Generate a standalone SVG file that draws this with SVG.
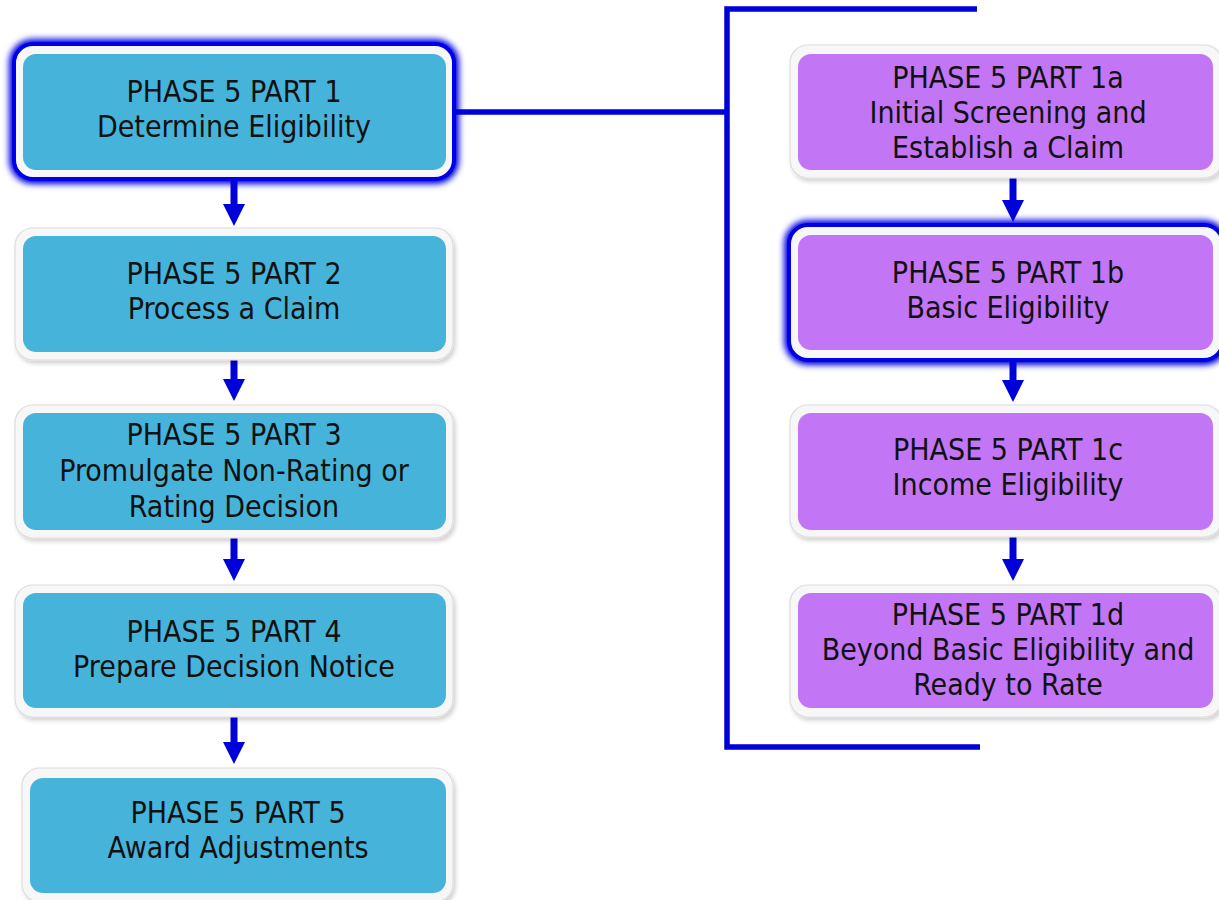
<svg xmlns="http://www.w3.org/2000/svg" width="1219" height="900" viewBox="0 0 1219 900">
<defs>
<style>
.frame{fill:#f7f7f7;stroke:#dedede;stroke-width:1.2;filter:url(#shadow)}
.blue{fill:#46B4DA}
.purple{fill:#C276F6}
.t{font-family:"DejaVu Sans Condensed","DejaVu Sans",Verdana,sans-serif;font-stretch:condensed;font-size:30px;fill:#111;text-anchor:middle}
.conn{stroke:#0000D8;stroke-width:5.5;fill:none}
.arr{stroke:#0000D8;stroke-width:7;fill:none;marker-end:url(#head)}
.glow{fill:none;stroke:#0000E6;stroke-width:12;filter:url(#blur)}
.glowline{fill:none;stroke:#0000E6;stroke-width:4}
</style>
<filter id="shadow" x="-5%" y="-5%" width="115%" height="120%">
<feDropShadow dx="2" dy="3" stdDeviation="2" flood-color="#000" flood-opacity="0.18"/>
</filter>
<filter id="blur" x="-10%" y="-20%" width="120%" height="140%">
<feGaussianBlur stdDeviation="3"/>
</filter>
<marker id="head" markerUnits="userSpaceOnUse" markerWidth="22" markerHeight="22" viewBox="0 0 22 22" refX="1" refY="11" orient="auto">
<path d="M0,0 L22,11 L0,22 z" fill="#0000D8"/>
</marker>
</defs>

<g id="connectors">
<path class="conn" d="M453,112 H727"/>
<path class="conn" d="M977,9 H727 V747 H980"/>
<path class="arr" d="M234,178 V205"/>
<path class="arr" d="M234,360 V380"/>
<path class="arr" d="M234,538 V560"/>
<path class="arr" d="M234,717 V743"/>
<path class="arr" d="M1013,178 V201"/>
<path class="arr" d="M1013,360 V381"/>
<path class="arr" d="M1013,537 V560"/>
</g>

<g id="p1">
<rect class="glow" x="15" y="45" width="438" height="133" rx="18"/>
<rect class="frame" x="15" y="45" width="438" height="133" rx="18"/>
<rect class="glowline" x="14" y="44" width="440" height="135" rx="19"/>
<rect class="blue" x="23" y="54" width="423" height="116" rx="13"/>
<text class="t" x="234" y="102">PHASE 5 PART 1</text>
<text class="t" x="234" y="137">Determine Eligibility</text>
</g>

<g id="p2">
<rect class="frame" x="15" y="228" width="438" height="132" rx="18"/>
<rect class="blue" x="23" y="236" width="423" height="116" rx="13"/>
<text class="t" x="234" y="284">PHASE 5 PART 2</text>
<text class="t" x="234" y="319">Process a Claim</text>
</g>

<g id="p3">
<rect class="frame" x="15" y="405" width="438" height="133" rx="18"/>
<rect class="blue" x="23" y="413" width="423" height="117" rx="13"/>
<text class="t" x="234" y="445">PHASE 5 PART 3</text>
<text class="t" x="234" y="481">Promulgate Non-Rating or</text>
<text class="t" x="234" y="517">Rating Decision</text>
</g>

<g id="p4">
<rect class="frame" x="15" y="585" width="438" height="132" rx="18"/>
<rect class="blue" x="23" y="593" width="423" height="115" rx="13"/>
<text class="t" x="234" y="642">PHASE 5 PART 4</text>
<text class="t" x="234" y="677">Prepare Decision Notice</text>
</g>

<g id="p5">
<rect class="frame" x="22" y="768" width="431" height="134" rx="18"/>
<rect class="blue" x="30" y="778" width="416" height="115" rx="13"/>
<text class="t" x="238" y="823">PHASE 5 PART 5</text>
<text class="t" x="238" y="858">Award Adjustments</text>
</g>

<g id="p1a">
<rect class="frame" x="790" y="45" width="432" height="133" rx="18"/>
<rect class="purple" x="798" y="54" width="415" height="116" rx="13"/>
<text class="t" x="1008" y="88">PHASE 5 PART 1a</text>
<text class="t" x="1008" y="123">Initial Screening and</text>
<text class="t" x="1008" y="158">Establish a Claim</text>
</g>

<g id="p1b">
<rect class="glow" x="790" y="226" width="432" height="133" rx="18"/>
<rect class="frame" x="790" y="226" width="432" height="133" rx="18"/>
<rect class="glowline" x="789" y="225" width="434" height="135" rx="19"/>
<rect class="purple" x="798" y="235" width="415" height="115" rx="13"/>
<text class="t" x="1008" y="283">PHASE 5 PART 1b</text>
<text class="t" x="1008" y="318">Basic Eligibility</text>
</g>

<g id="p1c">
<rect class="frame" x="790" y="405" width="432" height="132" rx="18"/>
<rect class="purple" x="798" y="413" width="415" height="117" rx="13"/>
<text class="t" x="1008" y="460">PHASE 5 PART 1c</text>
<text class="t" x="1008" y="495">Income Eligibility</text>
</g>

<g id="p1d">
<rect class="frame" x="790" y="585" width="432" height="132" rx="18"/>
<rect class="purple" x="798" y="593" width="415" height="115" rx="13"/>
<text class="t" x="1008" y="625">PHASE 5 PART 1d</text>
<text class="t" x="1008" y="660">Beyond Basic Eligibility and</text>
<text class="t" x="1008" y="695">Ready to Rate</text>
</g>
</svg>
